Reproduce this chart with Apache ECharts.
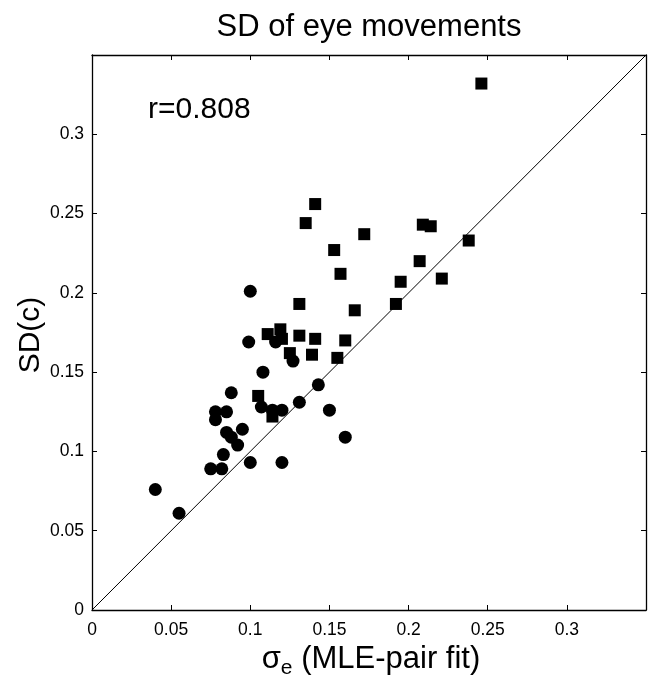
<!DOCTYPE html>
<html>
<head>
<meta charset="utf-8">
<script src="https://cdn.jsdelivr.net/npm/echarts@6/dist/echarts.min.js"></script>
<style>
  html, body { margin: 0; padding: 0; background: #fff; }
  #chart { width: 651px; height: 683px; }
</style>
</head>
<body>
<div id="chart"></div>
<script>
  // circles: [sigma_e, SD(c)]
  var circlePts = [
    [0.100, 0.201], [0.099, 0.169], [0.116, 0.169], [0.127, 0.157], [0.108, 0.150],
    [0.088, 0.137], [0.078, 0.125], [0.078, 0.120], [0.085, 0.125], [0.107, 0.128],
    [0.114, 0.126], [0.120, 0.126], [0.131, 0.131], [0.143, 0.142], [0.150, 0.126],
    [0.160, 0.109], [0.095, 0.114], [0.085, 0.112], [0.088, 0.109], [0.092, 0.104],
    [0.083, 0.098], [0.075, 0.089], [0.082, 0.089], [0.100, 0.093], [0.120, 0.093],
    [0.040, 0.076], [0.055, 0.061]
  ];
  // squares
  var squarePts = [
    [0.246, 0.332], [0.141, 0.256], [0.135, 0.244], [0.172, 0.237], [0.153, 0.227],
    [0.157, 0.212], [0.131, 0.193], [0.166, 0.189], [0.192, 0.193], [0.195, 0.207],
    [0.207, 0.220], [0.209, 0.243], [0.214, 0.242], [0.238, 0.233], [0.221, 0.209],
    [0.111, 0.174], [0.119, 0.177], [0.120, 0.171], [0.131, 0.173], [0.141, 0.171],
    [0.160, 0.170], [0.125, 0.162], [0.139, 0.161], [0.155, 0.159], [0.105, 0.135],
    [0.114, 0.122]
  ];
  var identityLine = [[0, 0], [0.35, 0.35]];
  var axisMin = 0, axisMax = 0.35, axisStep = 0.05;

  var font = 'Liberation Sans, Arial, Helvetica, sans-serif';

  function tickLabel(v) {
    if (v > 0.34) return '';
    return String(+v.toFixed(2));
  }

  function makeAxis(pos, showLabels) {
    return {
      type: 'value',
      position: pos,
      min: axisMin,
      max: axisMax,
      interval: axisStep,
      axisLine: { show: true, onZero: false, lineStyle: { color: '#000', width: 1.3 } },
      axisTick: { show: true, inside: true, length: 5, lineStyle: { color: '#000', width: 1 } },
      axisLabel: {
        show: showLabels,
        color: '#000',
        fontFamily: font,
        fontSize: 17.5,
        margin: pos === 'bottom' ? 11 : 8,
        formatter: tickLabel
      },
      splitLine: { show: false }
    };
  }

  var chart = echarts.init(document.getElementById('chart'));
  chart.setOption({
    animation: false,
    backgroundColor: '#fff',
    grid: { left: 92, top: 55, right: 5, bottom: 73 },
    xAxis: [makeAxis('bottom', true), makeAxis('top', false)],
    yAxis: [makeAxis('left', true), makeAxis('right', false)],
    graphic: [
      {
        type: 'text', x: 369, y: 27,
        style: { text: 'SD of eye movements', font: '31px ' + font, fill: '#000', align: 'center', verticalAlign: 'middle' }
      },
      {
        type: 'text', x: 148, y: 110,
        style: { text: 'r=0.808', font: '30px ' + font, fill: '#000', align: 'left', verticalAlign: 'middle' }
      },
      {
        type: 'text', x: 31, y: 335, rotation: Math.PI / 2,
        style: { text: 'SD(c)', font: '30px ' + font, fill: '#000', align: 'center', verticalAlign: 'middle' }
      },
      {
        type: 'text', x: 371, y: 659,
        style: {
          text: '{a|σ}{b|e}{a| (MLE-pair fit)}',
          align: 'center', verticalAlign: 'middle', fill: '#000',
          rich: {
            a: { fontFamily: font, fontSize: 31, fill: '#000', verticalAlign: 'middle' },
            b: { fontFamily: font, fontSize: 21, fill: '#000', padding: [18, 0, 0, 0] }
          }
        }
      }
    ],
    series: [
      {
        type: 'line',
        data: identityLine,
        showSymbol: false,
        lineStyle: { color: '#000', width: 1 },
        silent: true
      },
      {
        type: 'scatter',
        data: circlePts,
        symbol: 'circle',
        symbolSize: 13,
        itemStyle: { color: '#000', opacity: 1 }
      },
      {
        type: 'scatter',
        data: squarePts,
        symbol: 'rect',
        symbolSize: 12,
        itemStyle: { color: '#000', opacity: 1 }
      }
    ]
  });
</script>
</body>
</html>
